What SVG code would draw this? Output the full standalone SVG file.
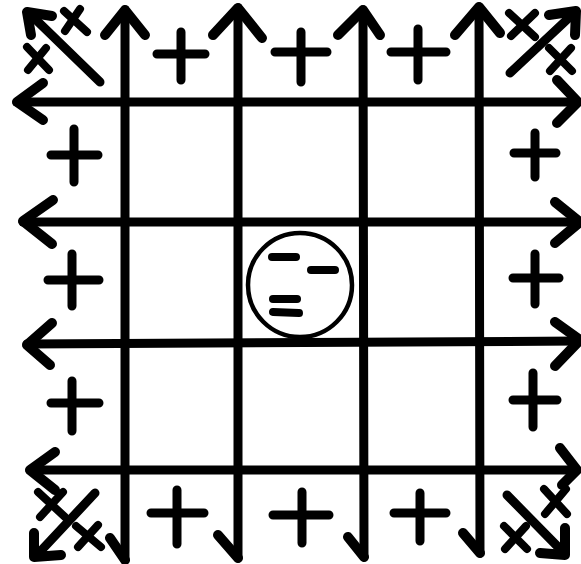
<svg xmlns="http://www.w3.org/2000/svg" width="581" height="564" viewBox="0 0 581 564">
<style>
.ln{fill:none;stroke:#000;stroke-width:9;stroke-linecap:round;stroke-linejoin:round}
.hd{fill:none;stroke:#000;stroke-width:10;stroke-linecap:round;stroke-linejoin:round}
.pl{fill:none;stroke:#000;stroke-width:9;stroke-linecap:round}
.x{fill:none;stroke:#000;stroke-width:8;stroke-linecap:round}
.m{fill:none;stroke:#000;stroke-width:8;stroke-linecap:round}
</style>
<rect width="581" height="564" fill="#fff"/>
<g id="grid">
  <g id="vertical-lines">
    <line class="ln" x1="125" y1="10" x2="125" y2="560"/>
    <polyline class="hd" points="105,35 125,10 145,35"/>
    <polyline class="hd" points="110,538 125,560"/>
    <line class="ln" x1="238" y1="8" x2="238" y2="558"/>
    <polyline class="hd" points="213,35 238,8 262,38"/>
    <polyline class="hd" points="218,535 238,558"/>
    <line class="ln" x1="363" y1="10" x2="364" y2="557"/>
    <polyline class="hd" points="338,35 363,10 380,35"/>
    <polyline class="hd" points="348,537 364,557"/>
    <line class="ln" x1="479" y1="7" x2="480" y2="553"/>
    <polyline class="hd" points="455,35 479,7 500,33"/>
    <polyline class="hd" points="463,533 480,553"/>
  </g>
  <g id="horizontal-lines">
    <line class="ln" x1="17" y1="102" x2="578" y2="102"/>
    <polyline class="hd" points="43,83 17,102 43,120"/>
    <polyline class="hd" points="557,80 578,102 557,123"/>
    <line class="ln" x1="23" y1="222" x2="580" y2="222"/>
    <polyline class="hd" points="53,200 23,221 52,244"/>
    <polyline class="hd" points="555,202 580,222 555,243"/>
    <line class="ln" x1="27" y1="344" x2="580" y2="341"/>
    <polyline class="hd" points="52,323 27,345 50,365"/>
    <polyline class="hd" points="555,322 580,340 555,366"/>
    <line class="ln" x1="30" y1="470" x2="577" y2="470"/>
    <polyline class="hd" points="55,452 30,470 55,490"/>
    <polyline class="hd" points="560,448 577,470 562,485"/>
  </g>
</g>
<g id="corner-top-left">
  <line class="ln" x1="100" y1="82" x2="30" y2="14"/>
  <polyline class="hd" points="52,16 27,12 31,35"/>
  <line class="x" x1="64" y1="11" x2="87" y2="32"/>
  <line class="x" x1="80" y1="9" x2="65" y2="31"/>
  <line class="x" x1="27" y1="47" x2="49" y2="70"/>
  <line class="x" x1="46" y1="48" x2="28" y2="70"/>
</g>
<g id="corner-top-right">
  <line class="ln" x1="510" y1="73" x2="573" y2="14"/>
  <polyline class="hd" points="549,15 576,11 575,35"/>
  <line class="x" x1="509" y1="13" x2="535" y2="37"/>
  <line class="x" x1="535" y1="13" x2="511" y2="36"/>
  <line class="x" x1="549" y1="48" x2="572" y2="71"/>
  <line class="x" x1="571" y1="48" x2="550" y2="71"/>
</g>
<g id="corner-bottom-left">
  <line class="ln" x1="95" y1="493" x2="37" y2="555"/>
  <polyline class="hd" points="34,533 34,557 61,555"/>
  <line class="x" x1="38" y1="492" x2="65" y2="517"/>
  <line class="x" x1="63" y1="492" x2="40" y2="517"/>
  <line class="x" x1="76" y1="526" x2="101" y2="547"/>
  <line class="x" x1="98" y1="525" x2="78" y2="547"/>
</g>
<g id="corner-bottom-right">
  <line class="ln" x1="507" y1="495" x2="563" y2="552"/>
  <polyline class="hd" points="565,528 565,555 540,553"/>
  <line class="x" x1="544" y1="489" x2="567" y2="514"/>
  <line class="x" x1="566" y1="489" x2="545" y2="514"/>
  <line class="x" x1="504" y1="526" x2="527" y2="549"/>
  <line class="x" x1="526" y1="526" x2="505" y2="549"/>
</g>
<g id="plus-charges">
  <path class="pl" d="M157,54H205M181,32V80"/>
  <path class="pl" d="M275,52H327M301,32V82"/>
  <path class="pl" d="M391,52H446M418,29V80"/>
  <path class="pl" d="M51,155H98M74,129V182"/>
  <path class="pl" d="M48,280H99M72,254V306"/>
  <path class="pl" d="M51,403H99M72,381V431"/>
  <path class="pl" d="M514,153H556M535,133V177"/>
  <path class="pl" d="M513,278H559M535,254V304"/>
  <path class="pl" d="M513,400H557M533,373V427"/>
  <path class="pl" d="M151,513H204M177,490V544"/>
  <path class="pl" d="M273,515H329M302,492V543"/>
  <path class="pl" d="M394,513H446M420,493V541"/>
</g>
<g id="negative-center">
  <circle cx="300" cy="285" r="52" fill="none" stroke="#000" stroke-width="4.5"/>
  <line class="m" x1="272" y1="257" x2="296" y2="257"/>
  <line class="m" x1="311" y1="270" x2="335" y2="270"/>
  <line class="m" x1="273" y1="299" x2="297" y2="299"/>
  <line class="m" x1="273" y1="312" x2="299" y2="313"/>
</g>
</svg>
